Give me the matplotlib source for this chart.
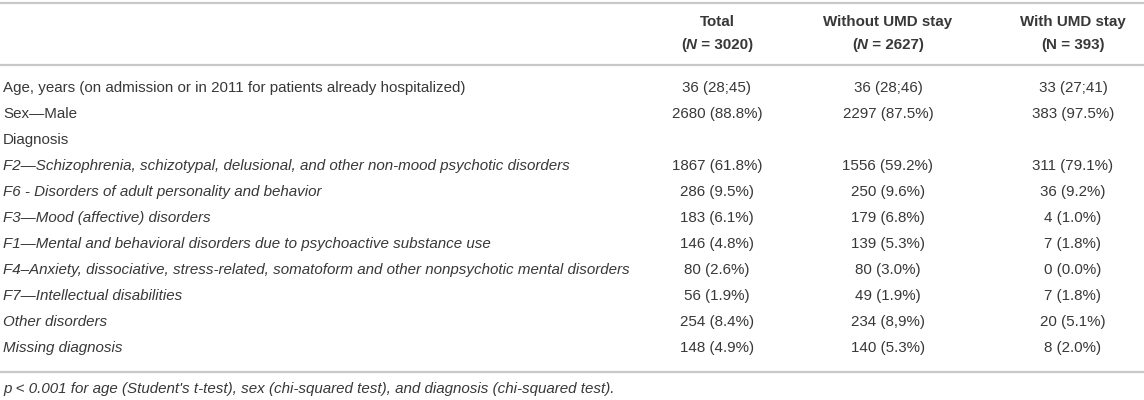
import matplotlib
matplotlib.use("Agg")
import matplotlib.pyplot as plt

# --- table content ---
col_titles = ["Total", "Without UMD stay", "With UMD stay"]
col_counts = ["3020", "2627", "393"]
col_n_italic = [True, True, False]

row_labels = [
    "Age, years (on admission or in 2011 for patients already hospitalized)",
    "Sex\u2014Male",
    "Diagnosis",
    "F2\u2014Schizophrenia, schizotypal, delusional, and other non-mood psychotic disorders",
    "F6 - Disorders of adult personality and behavior",
    "F3\u2014Mood (affective) disorders",
    "F1\u2014Mental and behavioral disorders due to psychoactive substance use",
    "F4\u2013Anxiety, dissociative, stress-related, somatoform and other nonpsychotic mental disorders",
    "F7\u2014Intellectual disabilities",
    "Other disorders",
    "Missing diagnosis",
]
row_italic = [False, False, False, True, True, True, True, True, True, True, True]

total = ["36 (28;45)", "2680 (88.8%)", "", "1867 (61.8%)", "286 (9.5%)", "183 (6.1%)",
         "146 (4.8%)", "80 (2.6%)", "56 (1.9%)", "254 (8.4%)", "148 (4.9%)"]
without_umd = ["36 (28;46)", "2297 (87.5%)", "", "1556 (59.2%)", "250 (9.6%)", "179 (6.8%)",
               "139 (5.3%)", "80 (3.0%)", "49 (1.9%)", "234 (8,9%)", "140 (5.3%)"]
with_umd = ["33 (27;41)", "383 (97.5%)", "", "311 (79.1%)", "36 (9.2%)", "4 (1.0%)",
            "7 (1.8%)", "0 (0.0%)", "7 (1.8%)", "20 (5.1%)", "8 (2.0%)"]

footnote = ("p < 0.001 for age (Student's t-test), sex (chi-squared test), "
            "and diagnosis (chi-squared test).")

# --- layout (pixels) ---
W, H = 1144, 400
col_x = [717, 888, 1073]
row_y0, row_dy = 88, 26
text_color = "#383838"
line_color = "#c8c8c8"
fs = 10.9
plt.rcParams["font.family"] = ["Liberation Sans", "DejaVu Sans"]

fig = plt.figure(figsize=(W / 100, H / 100), dpi=100)
ax = fig.add_axes([0, 0, 1, 1])
ax.set_xlim(0, W)
ax.set_ylim(H, 0)
ax.axis("off")

for y in (3, 65, 372):
    ax.plot([0, W], [y, y], color=line_color, lw=1.6, solid_capstyle="butt")

# header
fig.canvas.draw()
renderer = fig.canvas.get_renderer()
for cx, title, cnt, ital in zip(col_x, col_titles, col_counts, col_n_italic):
    ax.text(cx, 22, title, ha="center", va="center", fontsize=fs,
            fontweight="bold", color=text_color)
    pieces = [("(", "normal"), ("N", "italic" if ital else "normal"),
              (" = " + cnt + ")", "normal")]
    arts = []
    for s, st in pieces:
        t = ax.text(0, 45, s, ha="left", va="center", fontsize=fs,
                    fontweight="bold", fontstyle=st, color=text_color)
        arts.append(t)
    widths = [a.get_window_extent(renderer).width for a in arts]
    x = cx - sum(widths) / 2
    for a, w in zip(arts, widths):
        a.set_x(x)
        x += w

# body
for i, label in enumerate(row_labels):
    y = row_y0 + i * row_dy
    ax.text(3, y, label, ha="left", va="center", fontsize=fs,
            fontstyle="italic" if row_italic[i] else "normal", color=text_color)
    for cx, col in zip(col_x, (total, without_umd, with_umd)):
        if col[i]:
            ax.text(cx, y, col[i], ha="center", va="center", fontsize=fs,
                    color=text_color)

ax.text(3, 389, footnote, ha="left", va="center", fontsize=fs,
        fontstyle="italic", color=text_color)

fig.savefig("out.png", dpi=100)
